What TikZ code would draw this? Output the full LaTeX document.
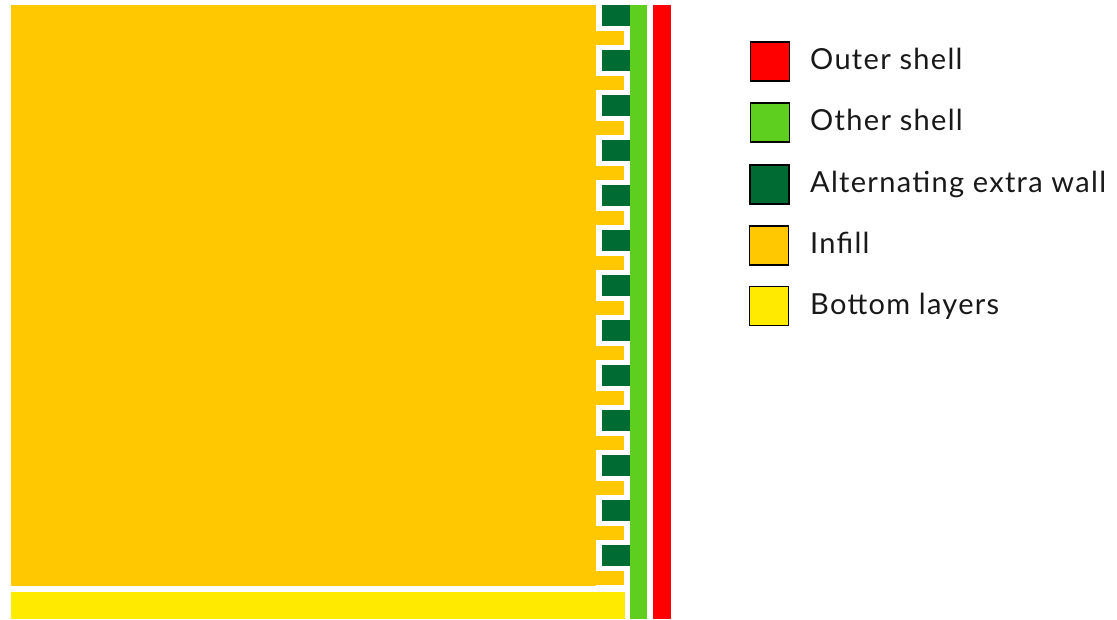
\documentclass[tikz,border=0pt]{standalone}
\usepackage{fontspec}
\setmainfont[LetterSpace=4.5]{Lato}
\definecolor{infill}{HTML}{FFC800}
\definecolor{bottom}{HTML}{FFEA00}
\definecolor{dgreen}{HTML}{006B33}
\definecolor{lgreen}{HTML}{5FCF1F}
\definecolor{outer}{HTML}{FF0000}
\begin{document}
\begin{tikzpicture}[x=1pt,y=-1pt,
  swatch/.style={draw=black,line width=1.8pt,minimum width=39pt,minimum height=39pt,inner sep=0pt,anchor=center},
  lbl/.style={anchor=base west,inner sep=0pt,font=\fontsize{29}{31}\selectfont,text=black!90}]
\useasboundingbox (0,0) rectangle (1117,619);
\fill[white] (0,0) rectangle (1117,619);
% infill body
\fill[infill] (11,5) rectangle (596,585.5);
\foreach \k in {0,...,12} {
  \fill[infill] (595,31+45*\k) rectangle (624,44.5+45*\k);
  \fill[dgreen] (602,5+45*\k) rectangle (629.5,25.5+45*\k);
}
% bottom layers
\fill[bottom] (11,592) rectangle (624.5,619);
% shells
\fill[lgreen] (629.5,5) rectangle (647,619);
\fill[outer] (653,5) rectangle (671,619);
% legend
\node[swatch,fill=outer] (s1) at (770,61.5) {};
\node[swatch,fill=lgreen] (s2) at (770,122.5) {};
\node[swatch,fill=dgreen] (s3) at (769.5,184.5) {};
\node[swatch,fill=infill] (s4) at (769,245.5) {};
\node[swatch,fill=bottom] (s5) at (769,306) {};
\node[lbl] (t1) at (810,69.5) {Outer shell};
\node[lbl] (t2) at (810,130.5) {Other shell};
\node[lbl] (t3) at (810,192.5) {Alternating extra wall};
\node[lbl] (t4) at (810,253) {Infill};
\node[lbl] (t5) at (810,314) {Bottom layers};
\end{tikzpicture}
\end{document}
